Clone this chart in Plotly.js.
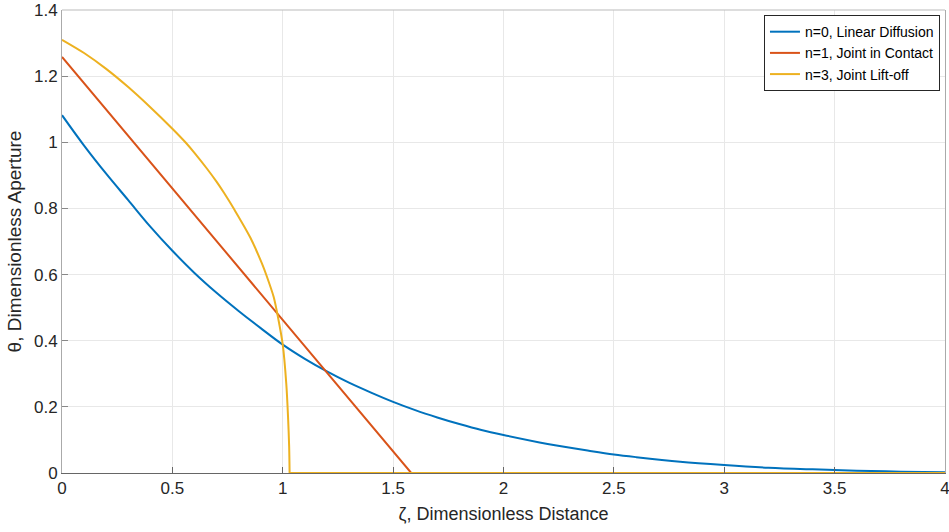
<!DOCTYPE html>
<html>
<head>
<meta charset="utf-8">
<script src="https://cdn.plot.ly/plotly-3.0.1.min.js"></script>
<style>html,body{margin:0;padding:0;background:#fff;}#chart{width:949px;height:532px;}</style>
</head>
<body>
<div id="chart"></div>
<script>
// n=0, Linear Diffusion
var blueX = [0, 0.1, 0.2, 0.3, 0.4, 0.5, 0.6, 0.7, 0.8, 0.9, 1.0, 1.1, 1.2, 1.3, 1.4, 1.5, 1.6, 1.7, 1.8, 1.9, 2.0, 2.2, 2.4, 2.5, 2.6, 2.8, 3.0, 3.2, 3.4, 3.5, 3.6, 3.8, 4.0];
var blueY = [1.082, 0.99, 0.905, 0.825, 0.745, 0.672, 0.605, 0.545, 0.49, 0.438, 0.388, 0.345, 0.307, 0.273, 0.243, 0.215, 0.19, 0.168, 0.148, 0.13, 0.115, 0.088, 0.066, 0.056, 0.048, 0.034, 0.024, 0.016, 0.011, 0.009, 0.007, 0.004, 0.002];
// n=1, Joint in Contact
var redX = [0, 1.582, 4.0];
var redY = [1.258, 0, 0];
// n=3, Joint Lift-off
var yellowX = [0, 0.1, 0.2, 0.3, 0.4, 0.5, 0.559, 0.6, 0.657, 0.7, 0.733, 0.782, 0.853, 0.906, 0.926, 0.959, 0.981, 1.0, 1.016, 1.024, 1.029, 1.031];
var yellowY = [1.31, 1.27, 1.222, 1.167, 1.106, 1.041, 1.0, 0.968, 0.92, 0.881, 0.848, 0.795, 0.712, 0.633, 0.598, 0.532, 0.462, 0.388, 0.27, 0.169, 0.08, 0];
var yellowTailX = [1.031, 4.0];
var yellowTailY = [0, 0];

var seriesNames = ["n=0, Linear Diffusion", "n=1, Joint in Contact", "n=3, Joint Lift-off"];
var seriesColors = ["#0072BD", "#D95319", "#EDB120"];
var xTicks = [0, 0.5, 1, 1.5, 2, 2.5, 3, 3.5, 4];
var xTickText = ["0", "0.5", "1", "1.5", "2", "2.5", "3", "3.5", "4"];
var yTicks = [0, 0.2, 0.4, 0.6, 0.8, 1, 1.2, 1.4];
var yTickText = ["0", "0.2", "0.4", "0.6", "0.8", "1", "1.2", "1.4"];

var traces = [
  {x: blueX, y: blueY, type: "scatter", mode: "lines", name: seriesNames[0],
   line: {color: seriesColors[0], width: 2, shape: "spline", smoothing: 1}},
  {x: redX, y: redY, type: "scatter", mode: "lines", name: seriesNames[1],
   line: {color: seriesColors[1], width: 2}},
  {x: yellowX, y: yellowY, type: "scatter", mode: "lines", name: seriesNames[2], legendgroup: "y",
   line: {color: seriesColors[2], width: 2, shape: "spline", smoothing: 0.8}},
  {x: yellowTailX, y: yellowTailY, type: "scatter", mode: "lines", name: seriesNames[2], legendgroup: "y",
   showlegend: false, line: {color: seriesColors[2], width: 2}}
];

var fontFam = "Liberation Sans, Arial, Helvetica, sans-serif";
var layout = {
  width: 949, height: 532,
  margin: {l: 61.5, r: 4, t: 9.7, b: 59.3},
  paper_bgcolor: "#ffffff", plot_bgcolor: "#ffffff",
  font: {family: fontFam, color: "#262626", size: 17},
  showlegend: true,
  legend: {
    x: 0.9943, y: 0.989, xanchor: "right", yanchor: "top",
    bgcolor: "#ffffff", bordercolor: "#262626", borderwidth: 1,
    font: {family: fontFam, size: 14, color: "#000000"},
    tracegroupgap: 0, itemwidth: 30
  },
  xaxis: {
    range: [0, 4], tickvals: xTicks, ticktext: xTickText,
    ticks: "inside", ticklen: 6, tickcolor: "#666666", tickwidth: 1,
    showgrid: true, gridcolor: "#e8e8e8", gridwidth: 1,
    showline: true, linecolor: "#666666", linewidth: 1, mirror: false,
    zeroline: false, tickfont: {size: 17, color: "#262626"},
    ticklabeloverflow: "allow",
    title: {text: "ζ, Dimensionless Distance", font: {size: 18, color: "#262626"}, standoff: 9}
  },
  yaxis: {
    range: [0, 1.4], tickvals: yTicks, ticktext: yTickText,
    ticks: "inside", ticklen: 6, tickcolor: "#888888", tickwidth: 1,
    showgrid: true, gridcolor: "#e8e8e8", gridwidth: 1,
    showline: true, linecolor: "#aaaaaa", linewidth: 1, mirror: true,
    zeroline: false, tickfont: {size: 17, color: "#262626"},
    title: {text: "θ, Dimensionless Aperture", font: {size: 19, color: "#262626"}, standoff: 7}
  },
  shapes: [{
    type: "line", xref: "paper", yref: "paper", x0: 0, x1: 1, y0: 1, y1: 1,
    line: {color: "#bbbbbb", width: 1}
  }]
};

Plotly.newPlot("chart", traces, layout, {displayModeBar: false, staticPlot: true});
</script>
</body>
</html>
